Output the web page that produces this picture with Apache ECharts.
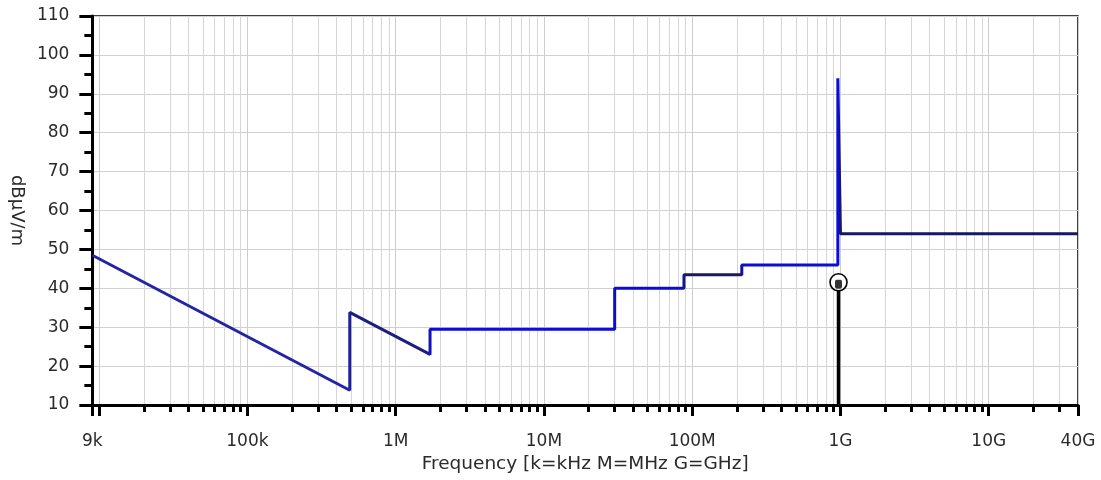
<!DOCTYPE html>
<html>
<head>
<meta charset="utf-8">
<script src="https://cdn.jsdelivr.net/npm/echarts@6/dist/echarts.min.js"></script>
<style>
  html, body { margin: 0; padding: 0; background: #fff; }
  #chart { width: 1101px; height: 480px; }
</style>
</head>
<body>
<div id="chart"></div>
<script>
// limit line, frequency in Hz, level in dBuV/m
const limitFreq = [9e3, 4.9e5, 4.9e5, 1.705e6, 1.705e6, 3e7, 3e7, 8.8e7, 8.8e7, 2.16e8, 2.16e8, 9.6e8, 9.6e8, 1e9, 4e10]
const limitLevel = [48.5, 13.8, 33.8, 23.0, 29.5, 29.5, 40, 40, 43.5, 43.5, 46, 46, 94, 54, 54]

// marker stem
const markerFreq = [9.7e8]
const markerLevel = [40]

// axis labels
const tickFreqs = [9e3, 1e5, 1e6, 1e7, 1e8, 1e9, 1e10, 4e10]
const tickLabels = ['9k', '100k', '1M', '10M', '100M', '1G', '10G', '40G']
const decades = [1e4, 1e5, 1e6, 1e7, 1e8, 1e9, 1e10]
const minorSteps = [2, 3, 4, 5, 6, 7, 8, 9]

const lg = v => Math.log10(v)
const fMin = tickFreqs[0]
const fMax = tickFreqs[tickFreqs.length - 1]

const majorTicks = [lg(fMin)].concat(decades.map(lg), [lg(fMax)])
const minorTicks = []
decades.forEach(d => {
  minorSteps.forEach(k => {
    const f = k * d
    if (f < fMax) minorTicks.push(lg(f))
  })
})

const FONT = 'DejaVu Sans'
const TXT = '#2a2a2a'

const chart = echarts.init(document.getElementById('chart'))

const limitData = limitFreq.map((f, i) => [lg(f), limitLevel[i]])
const stemData = []
markerFreq.forEach((f, i) => {
  stemData.push([lg(f), 10], [lg(f), markerLevel[i]])
})
const markerData = markerFreq.map((f, i) => [lg(f), markerLevel[i]])

const option = {
  animation: false,
  grid: {
    left: 92, right: 23, top: 16, bottom: 75,
    show: true, borderColor: '#000', borderWidth: 1.5, backgroundColor: '#fff'
  },
  xAxis: [
    {
      type: 'value',
      min: lg(fMin),
      max: lg(fMax),
      name: 'Frequency [k=kHz M=MHz G=GHz]',
      nameLocation: 'middle',
      nameGap: 43,
      nameTextStyle: { fontFamily: FONT, fontSize: 18.5, color: TXT },
      axisLine: { show: true, onZero: false, lineStyle: { color: '#000', width: 3 } },
      axisTick: { show: true, length: 11, customValues: majorTicks, lineStyle: { color: '#000', width: 3 } },
      axisLabel: {
        show: true,
        margin: 28,
        fontFamily: FONT, fontSize: 17, color: TXT,
        customValues: tickFreqs.map(lg),
        formatter: v => {
          const i = tickFreqs.findIndex(f => Math.abs(lg(f) - v) < 1e-6)
          return i >= 0 ? tickLabels[i] : ''
        }
      },
      splitLine: { show: true, lineStyle: { color: '#cdcdcd', width: 1 } }
    },
    {
      type: 'value',
      position: 'bottom',
      min: lg(fMin),
      max: lg(fMax),
      axisLine: { show: false },
      axisTick: { show: true, length: 7, customValues: minorTicks, lineStyle: { color: '#000', width: 3 } },
      axisLabel: { show: false },
      splitLine: { show: true, lineStyle: { color: '#d6d6d6', width: 1 } }
    }
  ],
  yAxis: {
    type: 'value',
    min: 10,
    max: 110,
    interval: 10,
    name: 'dBµV/m',
    nameLocation: 'middle',
    nameRotate: -90,
    nameGap: 62,
    nameTextStyle: { fontFamily: FONT, fontSize: 18, color: TXT },
    axisLine: { show: true, lineStyle: { color: '#000', width: 3 } },
    axisTick: { show: true, length: 13, lineStyle: { color: '#000', width: 3 } },
    minorTick: { show: true, splitNumber: 2, length: 8, lineStyle: { color: '#000', width: 3 } },
    axisLabel: { margin: 23, fontFamily: FONT, fontSize: 17, color: TXT },
    splitLine: { show: true, lineStyle: { color: '#d0d0d0', width: 1 } }
  },
  visualMap: {
    type: 'piecewise',
    show: false,
    seriesIndex: 0,
    dimension: 0,
    pieces: [
      { lt: lg(4.9e5), color: '#2424a4' },
      { gte: lg(4.9e5), lt: lg(1.705e6), color: '#1e1e7e' },
      { gte: lg(1.705e6), lt: lg(8.8e7), color: '#0c0cd8' },
      { gte: lg(8.8e7), lt: lg(2.16e8), color: '#1a1a5c' },
      { gte: lg(2.16e8), lt: lg(9.8e8), color: '#0c0cd8' },
      { gte: lg(9.8e8), color: '#18185e' }
    ]
  },
  series: [
    {
      name: 'Limit',
      type: 'line',
      data: limitData,
      showSymbol: false,
      lineStyle: { width: 3 },
      z: 3
    },
    {
      name: 'Marker',
      type: 'line',
      data: stemData,
      showSymbol: false,
      lineStyle: { color: '#000', width: 3.5 },
      z: 4
    },
    {
      name: 'MarkerHead',
      type: 'scatter',
      data: markerData,
      symbol: 'circle',
      symbolSize: 17,
      symbolOffset: [0, -6],
      itemStyle: { color: '#fff', borderColor: '#000', borderWidth: 1.6, opacity: 1 },
      z: 10
    },
    {
      name: 'MarkerGlyph',
      type: 'scatter',
      data: markerData,
      symbol: 'roundRect',
      symbolSize: [7, 9],
      symbolOffset: [0, -4],
      itemStyle: { color: '#000' },
      z: 11
    }
  ]
}

chart.setOption(option)
</script>
</body>
</html>
